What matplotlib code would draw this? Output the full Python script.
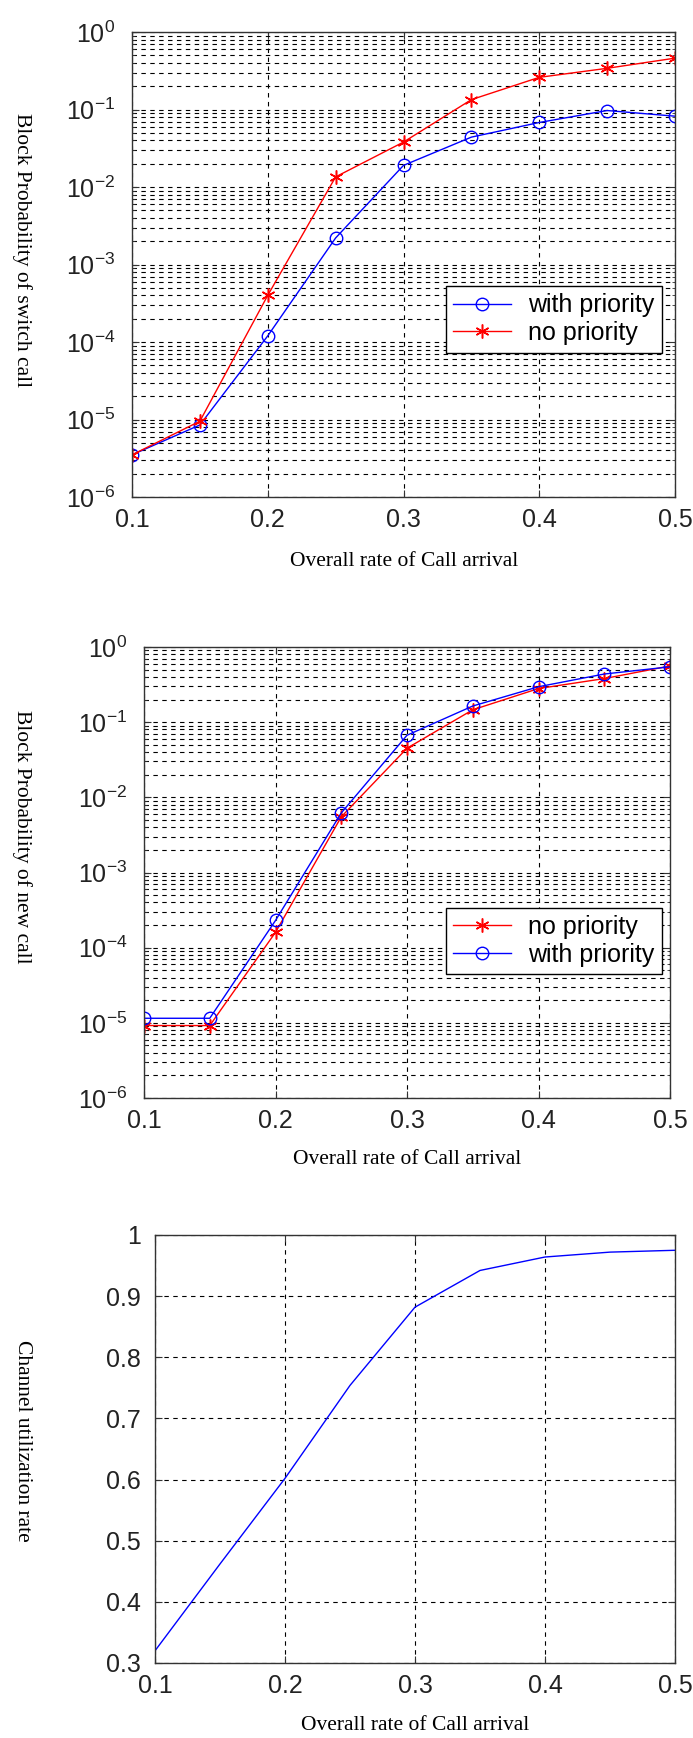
import math

import matplotlib
matplotlib.use("Agg")
import matplotlib.pyplot as plt
from matplotlib.ticker import LogLocator, NullFormatter, FixedLocator, FuncFormatter

# arrival rates
rate = [0.1, 0.15, 0.2, 0.25, 0.3, 0.35, 0.4, 0.45, 0.5]

# block probability of switch (handoff) call
switch_with_priority = [3.5e-6, 8.5e-6, 1.2e-4, 2.2e-3, 1.9e-2, 0.044, 0.068, 0.097, 0.082]
switch_no_priority = [3.5e-6, 9.5e-6, 4.0e-4, 1.35e-2, 0.038, 0.134, 0.26, 0.34, 0.46]

# block probability of new call
new_no_priority = [9.2e-6, 9.2e-6, 1.6e-4, 5.5e-3, 0.045, 0.146, 0.28, 0.38, 0.56]
new_with_priority = [1.15e-5, 1.15e-5, 2.3e-4, 6.2e-3, 0.067, 0.164, 0.296, 0.437, 0.545]

# channel utilization
utilization = [0.32, 0.462, 0.602, 0.754, 0.882, 0.942, 0.964, 0.972, 0.975]

x_ticks = [0.1, 0.2, 0.3, 0.4, 0.5]
util_ticks = [0.3, 0.4, 0.5, 0.6, 0.7, 0.8, 0.9, 1.0]
xlabel = "Overall rate of Call arrival"

W, H = 693, 1738
fig = plt.figure(figsize=(W / 100, H / 100), dpi=100)

TICK_FONT = "Liberation Sans"
LABEL_FONT = "Liberation Serif"
TICK_SIZE = 18
plt.rcParams["mathtext.default"] = "regular"
plt.rcParams["font.family"] = TICK_FONT

ASTERISK = (6, 2, 0)


def add_axes(left, top, right, bottom):
    return fig.add_axes([left / W, 1 - bottom / H, (right - left) / W, (bottom - top) / H])


def style(ax):
    for s in ax.spines.values():
        s.set_color("#333333")
        s.set_linewidth(1.0)
    ax.tick_params(which="both", direction="in", top=True, right=True,
                   colors="#333333", labelcolor="#222222", labelsize=TICK_SIZE)
    ax.tick_params(which="major", length=5)
    ax.tick_params(which="minor", length=2.5)
    ax.tick_params(axis="x", pad=8)
    ax.grid(True, which="major", ls="--", color="black", lw=0.8, dashes=(4, 4))


def log_panel(ax):
    ax.set_yscale("log")
    ax.set_ylim(1e-6, 1)
    ax.set_xlim(0.1, 0.5)
    ax.xaxis.set_major_locator(FixedLocator(x_ticks))
    ax.xaxis.set_major_formatter(FuncFormatter(lambda v, p: "%g" % v))
    ax.yaxis.set_major_locator(LogLocator(base=10, numticks=10))
    ax.yaxis.set_minor_locator(LogLocator(base=10, subs=range(2, 10), numticks=20))
    ax.yaxis.set_minor_formatter(NullFormatter())
    ax.yaxis.set_major_formatter(
        FuncFormatter(lambda v, p: r"$\mathregular{10^{%d}}$" % round(math.log10(v))))
    style(ax)
    ax.tick_params(axis="y", pad=12)
    ax.grid(True, which="minor", axis="y", ls="--", color="black", lw=0.8, dashes=(4, 4))


leg_kw = dict(frameon=True, fancybox=False, edgecolor="black", framealpha=1,
              handlelength=2.3, handletextpad=0.7, borderaxespad=0, borderpad=0.3,
              labelspacing=0.15, prop={"family": TICK_FONT, "size": TICK_SIZE})

# ---- panel 1: switch call ----
ax1 = add_axes(132, 32, 675, 497)
log_panel(ax1)
ax1.plot(rate, switch_with_priority, color="#0000ff", lw=1, marker="o", ms=9,
         mfc="none", mec="#0000ff", label="with priority")
ax1.plot(rate, switch_no_priority, color="#ff0000", lw=1, marker=ASTERISK, ms=10,
         mew=1.1, mec="#ff0000", label="no priority")
leg = ax1.legend(loc="upper right", bbox_to_anchor=(0.976, 0.454), **leg_kw)
leg.get_frame().set_linewidth(1.0)
fig.text(22 / W, 1 - 250 / H, "Block Probability of switch call", rotation=270,
         ha="center", va="center", family=LABEL_FONT, fontsize=15.5)
fig.text(404 / W, 1 - 562 / H, xlabel, ha="center", va="center", family=LABEL_FONT, fontsize=15.5)

# ---- panel 2: new call ----
ax2 = add_axes(144, 647, 670, 1098)
log_panel(ax2)
ax2.plot(rate, new_no_priority, color="#ff0000", lw=1, marker=ASTERISK, ms=10,
         mew=1.1, mec="#ff0000", label="no priority")
ax2.plot(rate, new_with_priority, color="#0000ff", lw=1, marker="o", ms=9,
         mfc="none", mec="#0000ff", label="with priority")
leg = ax2.legend(loc="upper right", bbox_to_anchor=(0.985, 0.422), **leg_kw)
leg.get_frame().set_linewidth(1.0)
fig.text(22 / W, 1 - 837 / H, "Block Probability of new call", rotation=270,
         ha="center", va="center", family=LABEL_FONT, fontsize=15.5)
fig.text(407 / W, 1 - 1160 / H, xlabel, ha="center", va="center", family=LABEL_FONT, fontsize=15.5)

# ---- panel 3: channel utilization ----
ax3 = add_axes(155, 1235, 675, 1663)
ax3.set_xlim(0.1, 0.5)
ax3.set_ylim(0.3, 1.0)
ax3.xaxis.set_major_locator(FixedLocator(x_ticks))
ax3.yaxis.set_major_locator(FixedLocator(util_ticks))
ax3.xaxis.set_major_formatter(FuncFormatter(lambda v, p: "%g" % v))
ax3.yaxis.set_major_formatter(FuncFormatter(lambda v, p: "%g" % v))
ax3.plot(rate, utilization, color="#0000ff", lw=1)
style(ax3)
ax3.tick_params(axis="y", pad=10)
fig.text(22 / W, 1 - 1441 / H, "Channel utilization rate", rotation=270,
         ha="center", va="center", family=LABEL_FONT, fontsize=15.5)
fig.text(415 / W, 1 - 1725 / H, xlabel, ha="center", va="center", family=LABEL_FONT, fontsize=15.5)

fig.savefig("out.png", dpi=100, facecolor="white")
